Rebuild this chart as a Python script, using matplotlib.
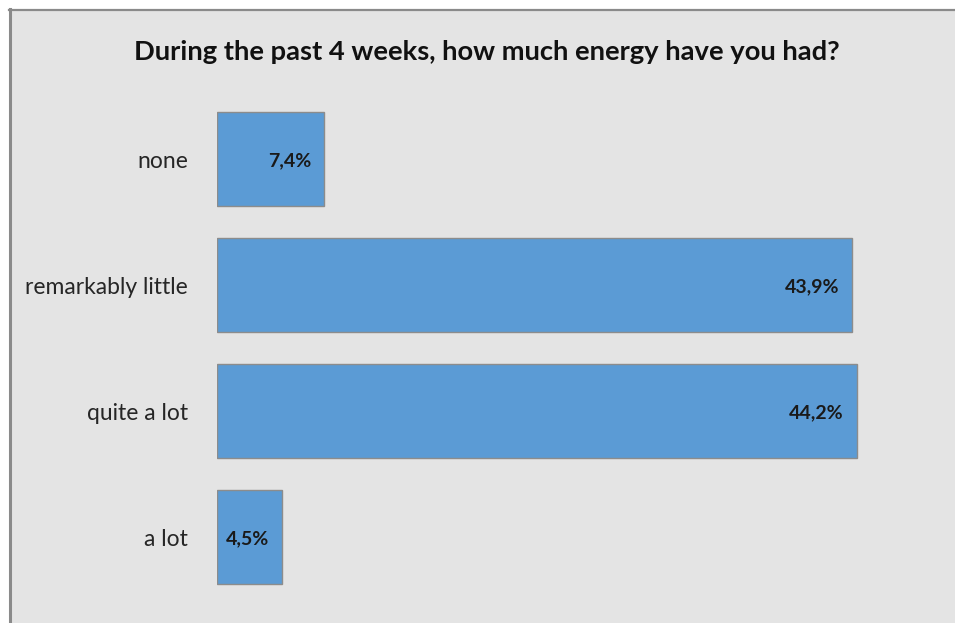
import matplotlib
matplotlib.use("Agg")
import matplotlib.pyplot as plt
from matplotlib.patches import Rectangle

categories = ["none", "remarkably little", "quite a lot", "a lot"]
values = [7.4, 43.9, 44.2, 4.5]
value_labels = ["7,4%", "43,9%", "44,2%", "4,5%"]
title = "During the past 4 weeks, how much energy have you had?"

W, H = 955, 623
bg = "#e4e4e4"
fig = plt.figure(figsize=(W / 100, H / 100), dpi=100)
fig.patch.set_facecolor(bg)

# white margin left and above the chart area, with a grey frame line
fig.add_artist(Rectangle((0, 0), 10 / W, 1, transform=fig.transFigure,
                         facecolor="white", edgecolor="none", zorder=-5))
fig.add_artist(Rectangle((0, 1 - 9 / H), 1, 9 / H, transform=fig.transFigure,
                         facecolor="white", edgecolor="none", zorder=-5))
fig.add_artist(plt.Line2D([10 / W, 10 / W], [0, 1 - 9 / H], transform=fig.transFigure,
                          color="#8a8a8a", lw=2.2, zorder=-4))
fig.add_artist(plt.Line2D([9 / W, 1], [1 - 10 / H, 1 - 10 / H], transform=fig.transFigure,
                          color="#8a8a8a", lw=1.6, zorder=-4))

# plot area in pixel coordinates
x0, x1 = 217, 217 + 50 * 14.47
ytop, ybot = 96, 600
ax = fig.add_axes([x0 / W, (H - ybot) / H, (x1 - x0) / W, (ybot - ytop) / H])
ax.set_facecolor("none")

pos = list(range(len(categories)))
ax.barh(pos, values, height=0.75, color="#5b9bd5", edgecolor="#8c8c8c", linewidth=1.0)
ax.set_xlim(0, 50)
ax.set_ylim(3.5, -0.5)

for y, v, lab in zip(pos, values, value_labels):
    ax.annotate(lab, xy=(v, y), xytext=(-13, -2), textcoords="offset pixels",
                ha="right", va="center", fontsize=14, fontweight="bold",
                family="Lato", color="#1a1a1a")

ax.set_yticks(pos)
ax.set_yticklabels(categories, fontsize=16.5, family="Lato", color="#262626")
ax.tick_params(axis="y", length=0, pad=21)
ax.set_xticks([])
for s in ax.spines.values():
    s.set_visible(False)

fig.text(487 / W, 1 - 52 / H, title, ha="center", va="center", fontsize=19.7,
         fontweight="bold", family="Lato", color="#111111")

fig.savefig("out.png", dpi=100, facecolor=bg)
